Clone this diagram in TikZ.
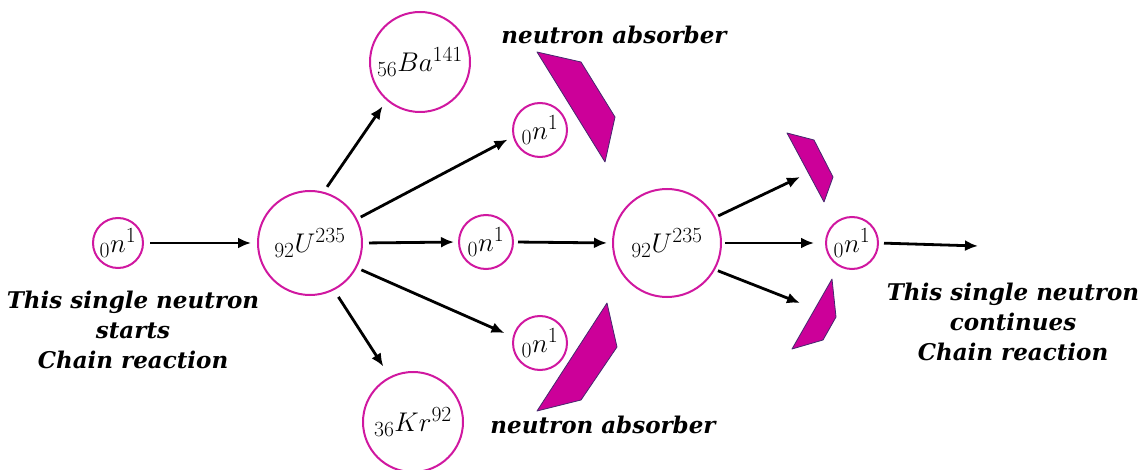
\documentclass[tikz,border=0pt]{standalone}
\usepackage{fix-cm}
\usepackage{fontspec}
\setmainfont{DejaVu Serif}
\usetikzlibrary{arrows.meta}
\renewcommand\defaultscriptratio{.8}
\renewcommand\defaultscriptscriptratio{.6}
\definecolor{mag}{RGB}{208,24,160}
\definecolor{absfill}{RGB}{204,0,153}
\definecolor{absedge}{RGB}{70,40,110}
\tikzset{
  nuc/.style={circle, draw=mag, line width=2pt, inner sep=0pt, minimum size=#1, font=\fontsize{27}{30}\selectfont},
  arr/.style={line width=2.8pt, -{Latex[length=13pt,width=11pt]}},
  absorber/.style={fill=absfill, draw=absedge, line width=0.8pt, line join=round},
  lbl/.style={font=\fontsize{23}{30}\selectfont\bfseries\itshape, align=center, inner sep=0pt}
}
\begin{document}
\begin{tikzpicture}[x=1pt,y=-1pt]
\useasboundingbox (0,0) rectangle (1140,470);
% nuclei
\node[nuc=50pt] (n0) at (118,243) {$_{0}n^{1}$};
\node[nuc=104pt] (u1) at (310,243) {$_{92}U^{235}$};
\node[nuc=100pt] (ba) at (420,62) {$_{56}Ba^{141}$};
\node[nuc=100pt] (kr) at (413,422) {$_{36}Kr^{92}$};
\node[nuc=54pt] (nt) at (540,130) {$_{0}n^{1}$};
\node[nuc=54pt] (nm) at (486,242) {$_{0}n^{1}$};
\node[nuc=54pt] (nb) at (540,343) {$_{0}n^{1}$};
\node[nuc=108pt] (u2) at (667,243) {$_{92}U^{235}$};
\node[nuc=52pt] (n2) at (852,243) {$_{0}n^{1}$};
% absorbers
\draw[absorber] (537,52) -- (581,62) -- (615,117) -- (605,162) -- cycle;
\draw[absorber] (607,303) -- (617,347) -- (581,400) -- (537,411) -- cycle;
\draw[absorber] (787,133) -- (814,140) -- (833,177) -- (824,202) -- cycle;
\draw[absorber] (832,279) -- (836,317) -- (823,340) -- (792,349) -- cycle;
% free ends
\coordinate (at) at (800,177);
\coordinate (ab) at (800,303);
\coordinate (fin) at (978,246);
% arrows
\draw[arr, shorten <=6pt, shorten >=6pt] (n0) -- (u1);
\draw[arr, shorten <=6pt, shorten >=7pt] (u1.75) -- (ba.229);
\draw[arr, shorten <=8pt, shorten >=12pt] (u1.-63) -- (kr.117);
\draw[arr, shorten <=4pt, shorten >=6pt] (u1.27) -- (nt.194);
\draw[arr, shorten <=6pt, shorten >=4pt] (u1.east) -- (nm.west);
\draw[arr, shorten <=5pt, shorten >=9pt] (u1.-28) -- (nb.167);
\draw[arr, shorten <=4pt, shorten >=5pt] (nm.east) -- (u2.west);
\draw[arr, shorten <=3pt] (u2.28) -- (at);
\draw[arr, shorten <=3pt, shorten >=11pt] (u2.east) -- (n2.west);
\draw[arr, shorten <=3pt] (u2.-29) -- (ab);
\draw[arr, shorten <=5pt] (n2.east) -- (fin);
% labels
\node[lbl] (tabs) at (614,35) {neutron absorber};
\node[lbl] (babs) at (603,425) {neutron absorber};
\node[lbl] (tl) at (133,330) {This single neutron\\starts\\Chain reaction};
\node[lbl] (tr) at (1013,322) {This single neutron\\continues\\Chain reaction};
\end{tikzpicture}
\end{document}
